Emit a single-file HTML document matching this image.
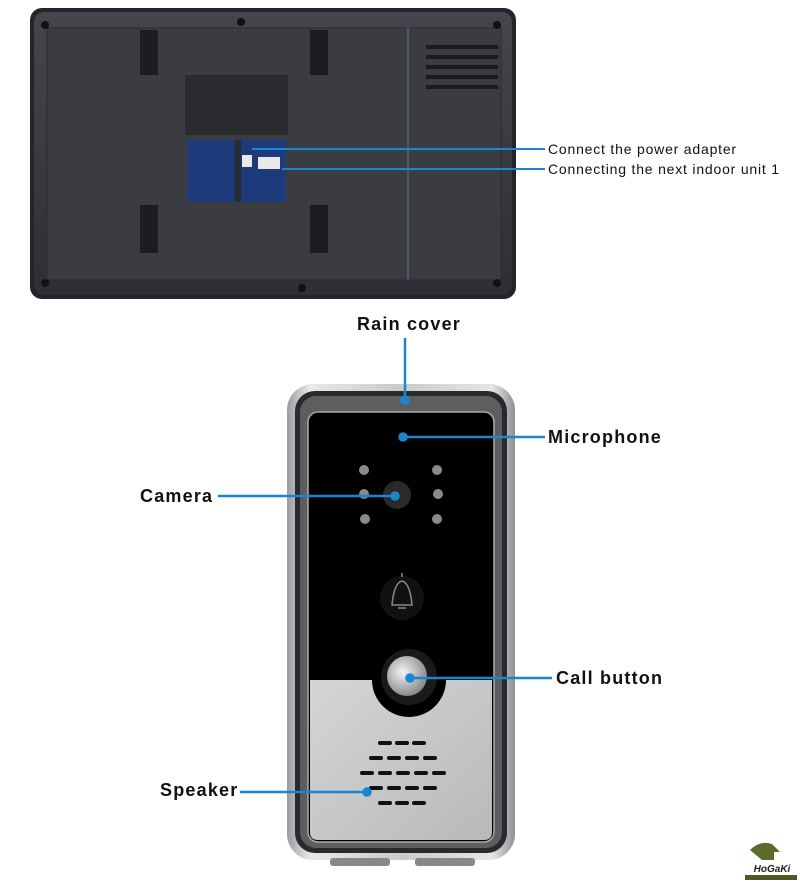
<!DOCTYPE html>
<html><head><meta charset="utf-8"><style>
html,body{margin:0;padding:0;background:#fff;}
body{width:800px;height:894px;overflow:hidden;position:relative;font-family:"Liberation Sans","DejaVu Sans",sans-serif;}
svg{position:absolute;left:0;top:0;}
</style></head><body>
<svg width="800" height="894" viewBox="0 0 800 894" xmlns="http://www.w3.org/2000/svg">
<defs>
<linearGradient id="mon" x1="0" y1="0" x2="0" y2="1"><stop offset="0" stop-color="#45464c"/><stop offset="1" stop-color="#2e2f34"/></linearGradient>
<linearGradient id="sil" x1="0" y1="0" x2="1" y2="0"><stop offset="0" stop-color="#9a9ca0"/><stop offset="0.1" stop-color="#e8e9eb"/><stop offset="0.5" stop-color="#c9cacc"/><stop offset="0.9" stop-color="#e5e6e8"/><stop offset="1" stop-color="#8e9094"/></linearGradient>
<linearGradient id="low" x1="0" y1="0" x2="1" y2="1"><stop offset="0" stop-color="#d4d5d7"/><stop offset="1" stop-color="#b8b9bb"/></linearGradient>
<radialGradient id="btn" cx="0.4" cy="0.4" r="0.6"><stop offset="0" stop-color="#f4f4f4"/><stop offset="1" stop-color="#8a8b8e"/></radialGradient>
</defs>
<!-- Monitor -->
<rect x="30" y="8" width="486" height="291" rx="12" fill="#24252a"/>
<rect x="34" y="12" width="478" height="283" rx="10" fill="url(#mon)"/>
<rect x="47" y="28" width="454" height="252" fill="#3b3c41" stroke="#2a2b2f"/>
<line x1="408" y1="28" x2="408" y2="280" stroke="#5a6078" stroke-width="1.5"/>
<g fill="#1c1d21">
<rect x="140" y="30" width="18" height="45"/><rect x="310" y="30" width="18" height="45"/>
<rect x="140" y="205" width="18" height="48"/><rect x="310" y="205" width="18" height="48"/>
</g>
<g fill="#1a1b1e">
<rect x="426" y="45" width="72" height="4"/><rect x="426" y="55" width="72" height="4"/><rect x="426" y="65" width="72" height="4"/><rect x="426" y="75" width="72" height="4"/><rect x="426" y="85" width="72" height="4"/>
</g>
<rect x="185" y="75" width="103" height="60" fill="#2a2b2e"/>
<rect x="187" y="140" width="99" height="62" fill="#1d3a7a"/>
<rect x="235" y="140" width="6" height="62" fill="#2a2b2e"/>
<rect x="242" y="155" width="10" height="12" fill="#e8e8e8"/><rect x="258" y="157" width="22" height="12" fill="#e8e8e8"/>
<g fill="#111"><circle cx="45" cy="25" r="4"/><circle cx="497" cy="25" r="4"/><circle cx="45" cy="283" r="4"/><circle cx="497" cy="283" r="4"/><circle cx="241" cy="22" r="4"/><circle cx="302" cy="288" r="4"/></g>
<line x1="252" y1="149" x2="545" y2="149" stroke="#1a86d0" stroke-width="2"/>
<line x1="282" y1="169" x2="545" y2="169" stroke="#1a86d0" stroke-width="2"/>
<text x="548" y="154" font-size="14" letter-spacing="0.8" fill="#111">Connect the power adapter</text>
<text x="548" y="174" font-size="14" letter-spacing="0.8" fill="#111">Connecting the next indoor unit 1</text>
<!-- Doorbell -->
<rect x="287" y="384" width="228" height="476" rx="26" fill="url(#sil)"/>
<rect x="295" y="391" width="212" height="462" rx="20" fill="#2a2a2c"/>
<rect x="300" y="396" width="202" height="452" rx="16" fill="#5d5e60"/>
<rect x="308" y="412" width="186" height="430" rx="10" fill="#000" stroke="#aaa" stroke-width="1.5"/>
<path d="M310 680 H372 A37 37 0 0 0 446 680 H492 V832 Q492 840 484 840 H318 Q310 840 310 832 Z" fill="url(#low)"/>
<circle cx="409" cy="677" r="28" fill="#1a1a1a"/>
<circle cx="407" cy="676" r="20" fill="url(#btn)"/>
<circle cx="397" cy="495" r="14" fill="#2a2a2c"/>
<g fill="#8a8a8a"><circle cx="364" cy="470" r="5"/><circle cx="364" cy="494" r="5"/><circle cx="365" cy="519" r="5"/><circle cx="437" cy="470" r="5"/><circle cx="438" cy="494" r="5"/><circle cx="437" cy="519" r="5"/></g>
<circle cx="402" cy="598" r="22" fill="#111"/>
<path d="M402 573 v4 M392 605 q2-22 10-24 q8 2 10 24 h-20 Z M398 608 h8" stroke="#888" stroke-width="1.5" fill="none"/>
<g fill="#111">
<rect x="378" y="741" width="14" height="4" rx="2"/><rect x="395" y="741" width="14" height="4" rx="2"/><rect x="412" y="741" width="14" height="4" rx="2"/>
<rect x="369" y="756" width="14" height="4" rx="2"/><rect x="387" y="756" width="14" height="4" rx="2"/><rect x="405" y="756" width="14" height="4" rx="2"/><rect x="423" y="756" width="14" height="4" rx="2"/>
<rect x="360" y="771" width="14" height="4" rx="2"/><rect x="378" y="771" width="14" height="4" rx="2"/><rect x="396" y="771" width="14" height="4" rx="2"/><rect x="414" y="771" width="14" height="4" rx="2"/><rect x="432" y="771" width="14" height="4" rx="2"/>
<rect x="369" y="786" width="14" height="4" rx="2"/><rect x="387" y="786" width="14" height="4" rx="2"/><rect x="405" y="786" width="14" height="4" rx="2"/><rect x="423" y="786" width="14" height="4" rx="2"/>
<rect x="378" y="801" width="14" height="4" rx="2"/><rect x="395" y="801" width="14" height="4" rx="2"/><rect x="412" y="801" width="14" height="4" rx="2"/>
</g>
<rect x="330" y="858" width="60" height="8" rx="3" fill="#888"/><rect x="415" y="858" width="60" height="8" rx="3" fill="#888"/>
<!-- callouts -->
<g stroke="#1a86d0" stroke-width="2.5" fill="#1a86d0">
<line x1="405" y1="338" x2="405" y2="400"/><circle cx="405" cy="400" r="3.5"/>
<line x1="403" y1="437" x2="545" y2="437"/><circle cx="403" cy="437" r="3.5"/>
<line x1="218" y1="496" x2="395" y2="496"/><circle cx="395" cy="496" r="3.5"/>
<line x1="410" y1="678" x2="552" y2="678"/><circle cx="410" cy="678" r="3.5"/>
<line x1="240" y1="792" x2="367" y2="792"/><circle cx="367" cy="792" r="3.5"/>
</g>
<g font-size="18" font-weight="bold" fill="#111" letter-spacing="1.2">
<text x="409" y="330" text-anchor="middle">Rain cover</text>
<text x="548" y="443">Microphone</text>
<text x="140" y="502">Camera</text>
<text x="556" y="684">Call button</text>
<text x="160" y="796">Speaker</text>
</g>
<path d="M750 850 q10-10 22-6 l8 8 h-6 v8 h-12 z" fill="#5b6b2a"/>
<text x="772" y="872" font-size="10" font-style="italic" font-weight="bold" fill="#222" text-anchor="middle">HoGaKi</text>
<rect x="745" y="875" width="52" height="5" fill="#4f5a22"/>
</svg>
</body></html>
